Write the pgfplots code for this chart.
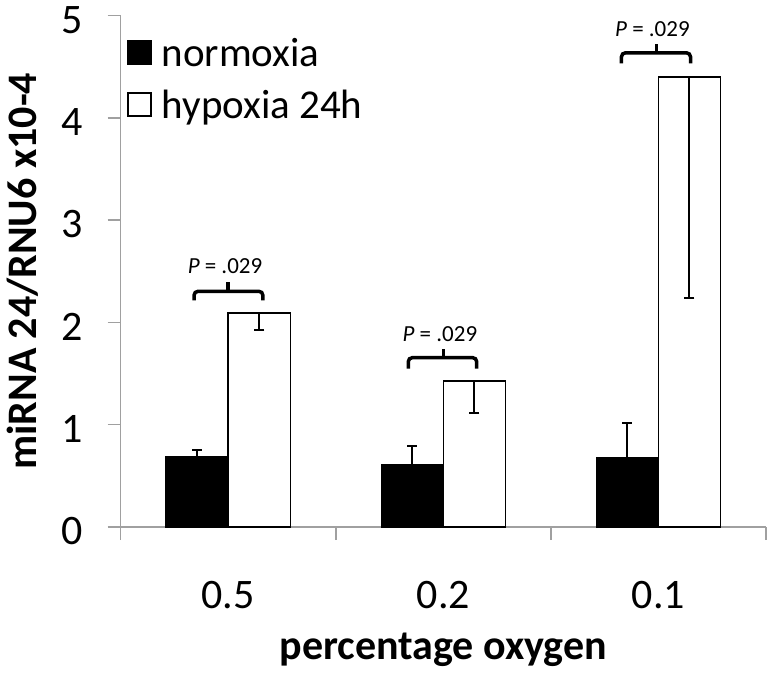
\documentclass[border=0pt]{standalone}
\usepackage{fontspec}
\setmainfont{Carlito}
\usepackage{pgfplots}
\pgfplotsset{compat=1.18}
\definecolor{axgray}{RGB}{160,160,160}
\begin{document}
\begin{tikzpicture}
\begin{axis}[
  at={(0,0)}, anchor=south west,
  scale only axis, width=645.3pt, height=511.3pt,
  xmin=-0.5, xmax=2.5, ymin=0, ymax=5,
  axis x line*=bottom, axis y line*=left,
  axis line style={axgray, line width=1.5pt, -},
  ybar, bar width=62pt,
  xtick={-0.5,0.5,1.5,2.5}, xticklabels={},
  extra x ticks={0,1,2}, extra x tick labels={0.5,0.2,0.1},
  extra x tick style={major tick length=0pt},
  ytick={0,1,2,3,4,5},
  tick align=outside,
  major tick length=13pt,
  tick style={axgray, line width=1.5pt},
  /pgf/number format/assume math mode=true,
  xticklabel style={font=\fontsize{42}{50}\selectfont, anchor=base, inner sep=0pt, yshift=-81.6pt},
  yticklabel style={font=\fontsize{42}{50}\selectfont, anchor=east, inner sep=0pt, yshift=-4pt},
  yticklabel shift=25pt,
  xlabel={percentage oxygen},
  xlabel style={font=\bfseries\fontsize{42}{50}\selectfont, at={(axis description cs:0.5,-0.2588)}, anchor=base, inner sep=0pt},
  ylabel={miRNA 24/RNU6 x10-4},
  ylabel style={font=\bfseries\fontsize{42}{50}\selectfont, at={(axis description cs:-0.1302,0.5)}, anchor=base, inner sep=0pt},
  legend style={draw=none, fill=none, at={(axis description cs:0.0098,0.957)}, anchor=north west, inner sep=0pt,
    font=\fontsize{41}{49}\selectfont, row sep=22pt, nodes={inner sep=0pt},
    /tikz/every odd column/.append style={column sep=10pt}},
  legend cell align=left,
  legend image code/.code={\draw[#1, line width=1.5pt] (0pt,-11.5pt) rectangle (23pt,11.5pt);},
  clip=false,
  error bars/error bar style={line width=2pt, black},
  error bars/error mark options={rotate=90, mark size=5pt, line width=2pt, black},
]
\addplot[fill=black, draw=black, line width=1.5pt, bar shift=-31pt,
  error bars/.cd, y dir=plus, y explicit]
  coordinates {(0,0.686) +- (0,0.065) (1,0.612) +- (0,0.181) (2,0.680) +- (0,0.341)};
\addlegendentry{normoxia}
\addplot[fill=white, draw=black, line width=1.5pt, bar shift=31pt,
  error bars/.cd, y dir=minus, y explicit]
  coordinates {(0,2.091) +- (0,0.162) (1,1.427) +- (0,0.312) (2,4.400) +- (0,2.163)};
\addlegendentry{hypoxia 24h}

% significance braces
\draw[line width=3.5pt, rounded corners=4pt] (axis cs:-0.159,2.215) |- (axis cs:0.161,2.305) -- (axis cs:0.161,2.215);
\draw[line width=3.5pt] (axis cs:0,2.305) -- (axis cs:0,2.40);
\node[anchor=base, inner sep=0pt, font=\fontsize{23}{28}\selectfont] at (axis cs:-0.015,2.475) {\textit{P} = .029};

\draw[line width=3.5pt, rounded corners=4pt] (axis cs:0.837,1.548) |- (axis cs:1.155,1.656) -- (axis cs:1.155,1.548);
\draw[line width=3.5pt] (axis cs:1.0,1.656) -- (axis cs:1.0,1.743);
\node[anchor=base, inner sep=0pt, font=\fontsize{23}{28}\selectfont] at (axis cs:0.984,1.816) {\textit{P} = .029};

\draw[line width=3.5pt, rounded corners=4pt] (axis cs:1.828,4.534) |- (axis cs:2.149,4.637) -- (axis cs:2.149,4.534);
\draw[line width=3.5pt] (axis cs:1.991,4.637) -- (axis cs:1.991,4.725);
\node[anchor=base, inner sep=0pt, font=\fontsize{23}{28}\selectfont] at (axis cs:1.972,4.800) {\textit{P} = .029};
\end{axis}
\pgfresetboundingbox
\path[use as bounding box] (-120.7pt,-149pt) rectangle (654.3pt,527pt);
\end{tikzpicture}
\end{document}
